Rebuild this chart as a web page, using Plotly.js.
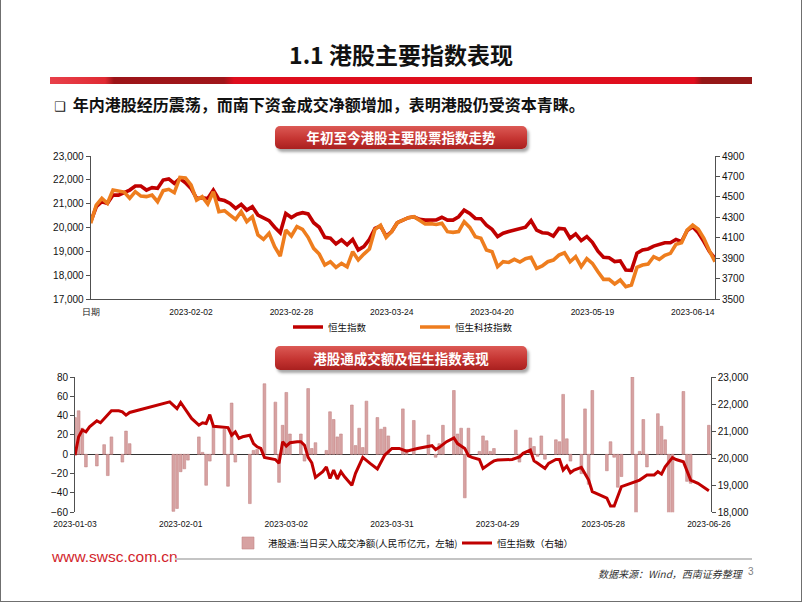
<!DOCTYPE html>
<html><head><meta charset="utf-8">
<script src="https://cdn.plot.ly/plotly-3.0.1.min.js"></script>
<style>
html,body{margin:0;padding:0;background:#fff;}
#slide{position:relative;width:802px;height:602px;overflow:hidden;background:#fff;font-family:"Noto Sans CJK SC","Liberation Sans",sans-serif;}
#chart{position:absolute;left:0;top:0;width:802px;height:602px;}
#frame{position:absolute;left:0;top:0;width:802px;height:602px;box-sizing:border-box;border:1px solid #6f6f6f;border-top:none;pointer-events:none;z-index:5;}
.title{position:absolute;left:0;top:39px;width:802px;text-align:center;font-size:23px;font-weight:700;color:#111;line-height:30px;z-index:3;}
.redbar{position:absolute;left:50px;top:77px;width:702px;height:7px;z-index:3;
 background:linear-gradient(to right,#e8404a 0px,#e02a33 55px,#9c1418 64px,#a0151a 174px,#de0d1d 184px,#e00e1e 644px,#951717 652px,#951717 702px);}
.bullet{position:absolute;left:54px;top:93px;font-size:16px;font-weight:700;line-height:22px;color:#111;z-index:3;white-space:nowrap;}
.bullet .sq{font-family:"DejaVu Sans";font-weight:400;font-size:13px;margin-right:7px;}
.hdr{position:absolute;left:275px;width:252px;border-radius:5px;color:#fff;font-weight:700;font-size:13.5px;text-align:center;z-index:3;
 background:linear-gradient(#dc5a55,#c53532 55%,#a9201f);box-shadow:2px 3px 3px rgba(0,0,0,.35);}
.url{position:absolute;left:52px;top:548px;font-family:"Liberation Sans",Arial,sans-serif;font-size:15.5px;color:#d21f2c;z-index:3;}
.gline{position:absolute;left:175px;top:558px;width:577px;height:2px;background:#c4c4c4;z-index:3;}
.src{position:absolute;left:598px;top:566px;font-size:10px;font-style:italic;color:#333;z-index:3;}
.pg{position:absolute;left:748px;top:566px;font-size:10px;color:#808080;font-family:"Liberation Sans",sans-serif;z-index:3;}
</style>
</head><body>
<div id="slide">
 <div id="chart"></div>
 <div class="title">1.1 港股主要指数表现</div>
 <div class="redbar"></div>
 <div class="bullet"><span class="sq">❑</span>年内港股经历震荡，而南下资金成交净额增加，表明港股仍受资本青睐。</div>
 <div class="hdr" style="top:126px;height:23px;line-height:23px;">年初至今港股主要股票指数走势</div>
 <div class="hdr" style="top:346px;height:24px;line-height:24px;">港股通成交额及恒生指数表现</div>
 <div class="url">www.swsc.com.cn</div>
 <div class="gline"></div>
 <div class="src">数据来源：Wind，西南证券整理</div>
 <div class="pg">3</div>
 <div id="frame"></div>
</div>
<script>
// ---------- Chart 1: 年初至今港股主要股票指数走势 ----------
const c1TickText = ['日期','2023-02-02','2023-02-28','2023-03-24','2023-04-20','2023-05-19','2023-06-14'];
const c1TickStep = 18;
const hsi = [
 20240,20870,21080,21010,21360,21360,21460,21570,21740,21740,
 21570,21670,21640,21990,22040,21850,22050,21880,21640,21220,
 21250,21220,21570,21180,21130,21010,20800,20970,20730,20870,
 20520,20410,20290,20010,19780,20590,20420,20560,
 20620,20570,20200,20010,19590,19550,19310,19480,19270,19500,
 19060,19200,19500,19960,20060,19640,19830,20200,20310,20410,
 20450,20340,20310,20330,20320,20430,20310,20310,20450,20730,
 20590,20380,20370,20100,19920,19620,19760,19830,
 19880,19940,20010,20290,19890,19780,19760,19640,19960,19940,
 19550,19730,19450,19620,19380,19010,18750,18730,18570,18600,
 18220,18200,18920,19060,19100,19220,19310,19360,19360,19500,
 19410,19870,20030,19780,19410,18990,18710
];
const hstech = [
 4241,4420,4486,4437,4567,4561,4547,4486,4551,4508,
 4502,4518,4453,4561,4574,4541,4691,4685,4616,4469,
 4502,4430,4551,4355,4365,4322,4280,4355,4257,4306,
 4127,4084,4143,4012,3921,4175,4117,4208,
 4182,4104,3996,3940,3833,3865,3810,3849,3816,3963,
 3882,3940,3989,4182,4221,4104,4159,4247,4273,4296,
 4306,4267,4234,4238,4230,4241,4159,4152,4160,4257,
 4201,4110,4094,3980,3963,3816,3865,3858,
 3888,3862,3895,3908,3800,3823,3865,3881,3930,3953,
 3865,3914,3816,3895,3849,3767,3692,3692,3647,3686,
 3620,3637,3810,3833,3842,3914,3888,3927,3947,4035,
 4051,4175,4224,4182,4094,3973,3865
];
const idx = hsi.map((v, i) => i);

// ---------- Chart 2: 港股通成交额及恒生指数表现 ----------
const c2Ticks = ['2023-01-03','2023-02-01','2023-03-02','2023-03-31','2023-04-29','2023-05-28','2023-06-26'];
const hsi2Dates = ['2023-01-03','2023-01-04','2023-01-05','2023-01-06','2023-01-07','2023-01-09','2023-01-10','2023-01-11','2023-01-13','2023-01-15',
 '2023-01-16','2023-01-17','2023-01-18','2023-01-29','2023-01-31','2023-02-01','2023-02-03','2023-02-04','2023-02-06','2023-02-07',
 '2023-02-08','2023-02-09','2023-02-10','2023-02-14','2023-02-15','2023-02-16','2023-02-17','2023-02-18','2023-02-20','2023-02-21',
 '2023-02-22','2023-02-23','2023-02-24','2023-02-25','2023-02-27','2023-02-28','2023-03-01','2023-03-02','2023-03-03','2023-03-05',
 '2023-03-06','2023-03-07','2023-03-08','2023-03-09','2023-03-10','2023-03-12','2023-03-13','2023-03-14','2023-03-15','2023-03-16',
 '2023-03-17','2023-03-18','2023-03-20','2023-03-21','2023-03-23','2023-03-25','2023-03-27','2023-03-29','2023-03-31','2023-04-02',
 '2023-04-04','2023-04-07','2023-04-11','2023-04-12','2023-04-13','2023-04-15','2023-04-17','2023-04-18','2023-04-20','2023-04-21',
 '2023-04-22','2023-04-24','2023-04-25','2023-04-27','2023-04-28','2023-04-29','2023-05-03','2023-05-05','2023-05-06','2023-05-08',
 '2023-05-09','2023-05-10','2023-05-12','2023-05-13','2023-05-15','2023-05-16','2023-05-17','2023-05-18','2023-05-19','2023-05-20',
 '2023-05-22','2023-05-24','2023-05-25','2023-05-27','2023-05-29','2023-05-30','2023-05-31','2023-06-02','2023-06-04','2023-06-05',
 '2023-06-07','2023-06-09','2023-06-11','2023-06-12','2023-06-13','2023-06-14','2023-06-16','2023-06-17','2023-06-19','2023-06-21',
 '2023-06-23','2023-06-26'];
const hsi2Values = [
 20110,20790,21040,20970,21160,21380,21310,21470,21750,21750,
 21710,21590,21690,22080,21830,22060,21650,21470,21220,21310,
 21280,21610,21180,21130,20850,20970,20730,20790,20850,20540,
 20420,20360,20030,20000,19950,19810,20610,20450,20570,20610,
 20610,20480,20030,19830,19290,19500,19680,19250,19560,19230,
 19500,19310,19000,19440,20030,19810,19600,20110,20360,20360,
 20260,20360,20460,20320,20400,20610,20750,20540,20360,20090,
 20030,19950,19620,19810,19900,19930,19950,20050,20180,20300,
 19900,19810,19620,19810,19950,19950,19560,19710,19460,19560,
 19660,19190,18760,18640,18520,18230,18230,18950,19040,19090,
 19190,19380,19380,19500,19410,19680,20020,19950,19870,19190,
 19070,18800];
const barDates = ['2023-01-03','2023-01-04','2023-01-05','2023-01-06','2023-01-09','2023-01-11','2023-01-12','2023-01-13','2023-01-16','2023-01-17',
 '2023-01-18','2023-01-30','2023-01-31','2023-02-01','2023-02-02','2023-02-03','2023-02-06','2023-02-07','2023-02-08','2023-02-09',
 '2023-02-10','2023-02-13','2023-02-14','2023-02-15','2023-02-16','2023-02-20','2023-02-21','2023-02-22','2023-02-24','2023-02-27',
 '2023-02-28','2023-03-01','2023-03-02','2023-03-03','2023-03-06','2023-03-07','2023-03-08','2023-03-09','2023-03-10','2023-03-13',
 '2023-03-14','2023-03-15','2023-03-16','2023-03-17','2023-03-20','2023-03-21','2023-03-22','2023-03-23','2023-03-24','2023-03-27',
 '2023-03-28','2023-03-29','2023-03-30','2023-04-03','2023-04-04','2023-04-06','2023-04-10','2023-04-12','2023-04-13','2023-04-14',
 '2023-04-17','2023-04-18','2023-04-19','2023-04-20','2023-04-21','2023-04-24','2023-04-25','2023-04-26','2023-04-27','2023-04-28',
 '2023-05-04','2023-05-05','2023-05-08','2023-05-09','2023-05-10','2023-05-11','2023-05-12','2023-05-15','2023-05-16','2023-05-17',
 '2023-05-18','2023-05-19','2023-05-22','2023-05-23','2023-05-24','2023-05-25','2023-05-29','2023-05-30','2023-05-31','2023-06-01',
 '2023-06-02','2023-06-05','2023-06-06','2023-06-07','2023-06-08','2023-06-09','2023-06-12','2023-06-13','2023-06-14','2023-06-15',
 '2023-06-16','2023-06-19','2023-06-20','2023-06-21','2023-06-26'];
const barValues = [
 38,45,27,-13,-12,10,-22,18,-8,24,
 11,-59,-56,-18,-15,-6,18,2,-32,-7,
 29,26,-33,53,-8,-51,4,5,73,54,
 -29,30,64,21,21,-7,68,6,12,4,
 44,36,18,21,51,9,27,7,55,38,
 26,28,19,47,5,35,20,-3,11,30,
 66,21,27,-45,27,3,19,14,3,6,
 25,-8,17,8,-2,19,-5,15,13,62,
 16,-7,-20,47,-31,66,-17,13,-3,-34,
 -23,80,-63,3,36,-13,42,29,15,-63,
 -63,65,-28,-30,30];

const tickFont = {family:'Liberation Sans, Arial, sans-serif', size:10, color:'#111'};
const dateFont = {family:'Liberation Sans, Arial, sans-serif', size:8.5, color:'#111'};
const legFont = {family:'Noto Sans CJK SC, sans-serif', size:9.5, color:'#111'};
const axisCol = '#505050';

const traces = [
 {type:'scatter', mode:'lines', x:idx, y:hsi, xaxis:'x', yaxis:'y', name:'恒生指数',
  line:{color:'#C00000', width:3.6}, legend:'legend'},
 {type:'scatter', mode:'lines', x:idx, y:hstech, xaxis:'x', yaxis:'y2', name:'恒生科技指数',
  line:{color:'#EE7D1E', width:3.6}, legend:'legend'},
 {type:'bar', x:barDates, y:barValues, xaxis:'x2', yaxis:'y3', name:'港股通:当日买入成交净额(人民币亿元，左轴)',
  marker:{color:'#d7a2a2', line:{color:'#c48787', width:0.6}}, width:0.75*86400000, legend:'legend2'},
 {type:'scatter', mode:'lines', x:hsi2Dates, y:hsi2Values, xaxis:'x2', yaxis:'y4', name:'恒生指数（右轴）',
  line:{color:'#C00000', width:3}, legend:'legend2'}
];

const layout = {
 width:802, height:602, margin:{l:0,r:0,t:0,b:0},
 paper_bgcolor:'rgba(0,0,0,0)', plot_bgcolor:'rgba(0,0,0,0)',
 showlegend:true, barmode:'overlay',
 xaxis:{domain:[90.7/802, 715/802], anchor:'y', range:[0, hsi.length-1],
  tickmode:'array', tickvals:c1TickText.map((t,i)=>i*c1TickStep), ticktext:c1TickText,
  showline:true, linecolor:axisCol, linewidth:1, ticks:'', showgrid:false, zeroline:false,
  tickfont:dateFont, ticklabelstandoff:5, fixedrange:true},
 yaxis:{domain:[1-299/602, 1-156/602], anchor:'x', range:[17000,23000], tick0:17000, dtick:1000, tickformat:',d',
  ticks:'outside', ticklen:4, tickcolor:axisCol, showline:true, linecolor:axisCol, linewidth:1,
  showgrid:false, zeroline:false, tickfont:tickFont},
 yaxis2:{overlaying:'y', side:'right', anchor:'x', range:[3500,4900], tick0:3500, dtick:200, tickformat:'d',
  ticks:'outside', ticklen:4, tickcolor:axisCol, showline:true, linecolor:axisCol, linewidth:1,
  showgrid:false, zeroline:false, tickfont:tickFont},
 xaxis2:{domain:[75/802, 710.7/802], anchor:'y3', type:'date', range:['2023-01-03','2023-06-26 12:00'],
  tickmode:'array', tickvals:c2Ticks, ticktext:c2Ticks, showline:false, ticks:'', showgrid:false, zeroline:false,
  tickfont:dateFont, ticklabelstandoff:5},
 yaxis3:{domain:[1-512.3/602, 1-377/602], anchor:'x2', range:[-60,80], tick0:-60, dtick:20,
  ticks:'outside', ticklen:4, tickcolor:axisCol, showline:true, linecolor:axisCol, linewidth:1,
  showgrid:false, zeroline:true, zerolinecolor:'#333', zerolinewidth:1, tickfont:tickFont},
 yaxis4:{overlaying:'y3', side:'right', anchor:'x2', range:[18000,23000], tick0:18000, dtick:1000, tickformat:',d',
  ticks:'outside', ticklen:4, tickcolor:axisCol, showline:true, linecolor:axisCol, linewidth:1,
  showgrid:false, zeroline:false, tickfont:tickFont},
 legend:{orientation:'h', x:288/802, y:1-327/602, xanchor:'left', yanchor:'middle', font:legFont,
  entrywidth:82, entrywidthmode:'pixels', bgcolor:'rgba(0,0,0,0)', borderwidth:0, traceorder:'normal'},
 legend2:{orientation:'h', x:228/802, y:1-543/602, xanchor:'left', yanchor:'middle', font:legFont,
  entrywidth:184, entrywidthmode:'pixels', bgcolor:'rgba(0,0,0,0)', borderwidth:0, traceorder:'normal'}
};

Plotly.newPlot('chart', traces, layout, {staticPlot:true, displayModeBar:false});
</script>
</body></html>
